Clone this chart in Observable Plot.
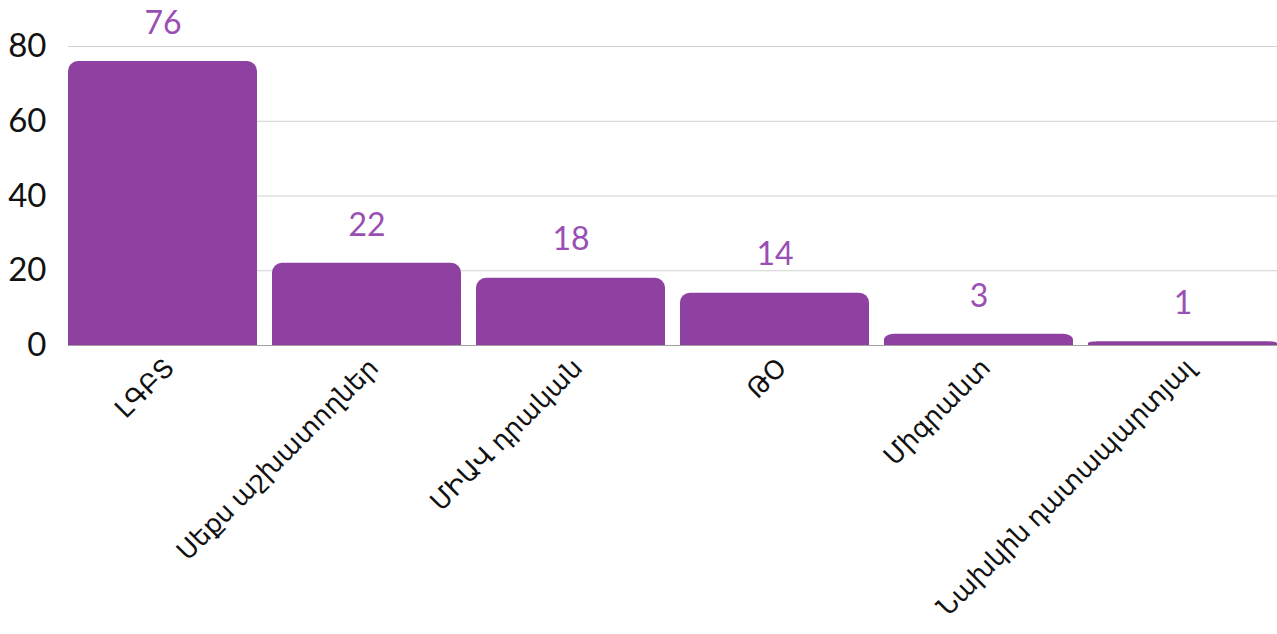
<!DOCTYPE html>
<html>
<head>
<meta charset="utf-8">
<script src="https://cdn.jsdelivr.net/npm/d3@7"></script>
<script src="https://cdn.jsdelivr.net/npm/@observablehq/plot@0.6"></script>
<style>
  html, body { margin: 0; padding: 0; background: #fff; }
  #chart svg { display: block; }
</style>
</head>
<body>
<div id="chart"></div>
<script>
const categories = ["ԼԳԲՏ", "Սեքս աշխատողներ", "ՄԻԱՎ դրական", "ԹՕ", "Միգրանտ", "Նախկին դատապարտյալ"];
const values = [76, 22, 18, 14, 3, 1];
const yTicks = [0, 20, 40, 60, 80];

const data = categories.map((c, i) => ({category: c, value: values[i]}));
const FONT = "Lato, 'DejaVu Sans', sans-serif";
const barColor = "#8e41a0";

const chart = Plot.plot({
  width: 1277,
  height: 634,
  marginLeft: 68,
  marginRight: 0,
  marginTop: 46,
  marginBottom: 289,
  style: {fontFamily: FONT, fontSize: "30px", color: "#111", background: "#fff"},
  x: {domain: categories, paddingInner: 0.0735, paddingOuter: 0, round: false, label: null},
  y: {domain: [0, 80], label: null},
  marks: [
    Plot.ruleY(yTicks.filter(d => d > 0), {stroke: "#d0d0d0", strokeWidth: 1}),
    Plot.barY(data, {x: "category", y: "value", fill: barColor, rx: 10}),
    Plot.barY(data, {x: "category", y1: 0, y2: d => d.value / 2, fill: barColor}),
    Plot.ruleY([0], {stroke: "#a0a0a0", strokeWidth: 1}),
    Plot.text(data, {x: "category", y: "value", text: d => String(d.value), dy: -38, fill: "#9a4fb4", fontSize: 32, fontFamily: FONT}),
    Plot.axisY({ticks: yTicks, tickSize: 0, tickPadding: 22, fontSize: 33, label: null, fill: "#111"}),
    Plot.axisX({tickSize: 0, tickRotate: -45, tickPadding: 18, dx: 7, fontSize: 26, label: null, fill: "#111"})
  ]
});
document.getElementById("chart").appendChild(chart);
</script>
</body>
</html>
